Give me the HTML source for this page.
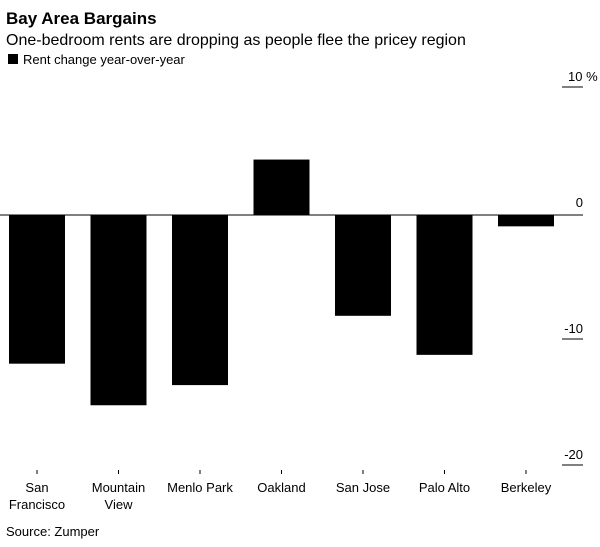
<!DOCTYPE html>
<html><head><meta charset="utf-8"><style>
body{margin:0;background:#fff;font-family:"Liberation Sans",Arial,sans-serif;}
svg{display:block}
</style></head><body>
<svg width="600" height="547" xmlns="http://www.w3.org/2000/svg">
<text x="6" y="24" font-size="17" font-weight="bold" fill="#000">Bay Area Bargains</text>
<text x="6" y="45" font-size="16" fill="#000">One-bedroom rents are dropping as people flee the pricey region</text>
<rect x="8" y="54" width="10" height="10" fill="#000"/>
<text x="23" y="64" font-size="13" fill="#000">Rent change year-over-year</text>
<g id="plot"></g>
<text x="6" y="536" font-size="13" fill="#000">Source: Zumper</text>
<script>
const categories=[["San","Francisco"],["Mountain","View"],["Menlo Park"],["Oakland"],["San Jose"],["Palo Alto"],["Berkeley"]];
const values=[-11.8,-15.1,-13.5,4.4,-8.0,-11.1,-0.9];
const ticks=[10,0,-10,-20];
const tickLabels=["10 %","0","-10","-20"];
const NS="http://www.w3.org/2000/svg";
const g=document.getElementById('plot');
function y(v){return 215-v*12.6;}
function x(i){return 37+i*81.5;}
function mk(t,a){const e=document.createElementNS(NS,t);for(const k in a)e.setAttribute(k,a[k]);g.appendChild(e);return e;}
ticks.forEach((t,i)=>{
  if(t!==0){const l=mk('line',{x1:562,x2:583,y1:y(t)-2,y2:y(t)-2,stroke:'#000','stroke-width':1});
  
  }
  const tx=mk('text',{x:583,y:y(t)-8,'font-size':13,'text-anchor':t===10?'start':'end',fill:'#000'});
  if(t===10)tx.setAttribute('x',568);
  tx.textContent=tickLabels[i];
  
  
});
values.forEach((v,i)=>{
  const top=Math.min(y(v),y(0)),h=Math.abs(y(v)-y(0));
  const r=mk('rect',{x:x(i)-28,y:top,width:56,height:h,fill:'#000'});
  
  
  const tk=mk('line',{x1:x(i),x2:x(i),y1:470,y2:474,stroke:'#000','stroke-width':1});
  
  
  categories[i].forEach((s,j)=>{
    const t=mk('text',{x:x(i),y:492+j*17,'font-size':13,'text-anchor':'middle',fill:'#000'});
    t.textContent=s;
    
    
  });
});
const z=mk('line',{x1:0,x2:583,y1:y(0),y2:y(0),stroke:'#000','stroke-width':1});


</script>
</svg>
</body></html>
